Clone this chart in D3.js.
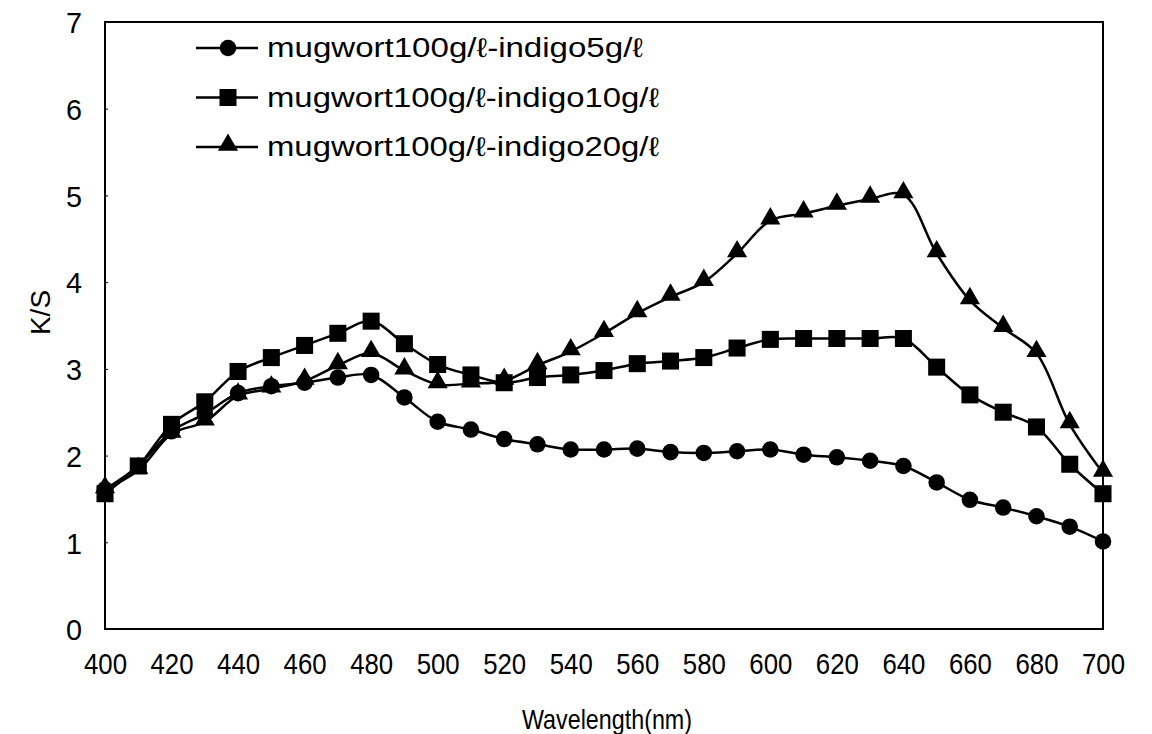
<!DOCTYPE html>
<html>
<head>
<meta charset="utf-8">
<script src="https://cdn.jsdelivr.net/npm/d3@7"></script>
<style>
  body { margin: 0; background: #fff; }
  text { font-family: "Liberation Sans", Arial, sans-serif; fill: #000; }
</style>
</head>
<body>
<script>
// wavelengths (nm)
var wavelengths = [400, 410, 420, 430, 440, 450, 460, 470, 480, 490, 500,
                   510, 520, 530, 540, 550, 560, 570, 580, 590, 600,
                   610, 620, 630, 640, 650, 660, 670, 680, 690, 700];

// K/S values
var indigo5 = [1.61, 1.88, 2.28, 2.48, 2.72, 2.80, 2.84, 2.90, 2.93, 2.67, 2.39,
               2.30, 2.19, 2.13, 2.07, 2.07, 2.08, 2.04, 2.03, 2.05, 2.07,
               2.01, 1.98, 1.94, 1.88, 1.69, 1.49, 1.40, 1.30, 1.18, 1.01];
var indigo10 = [1.56, 1.88, 2.36, 2.62, 2.97, 3.13, 3.27, 3.41, 3.55, 3.29, 3.05,
                2.93, 2.84, 2.90, 2.93, 2.98, 3.06, 3.09, 3.13, 3.24, 3.34,
                3.35, 3.35, 3.35, 3.35, 3.02, 2.70, 2.50, 2.33, 1.90, 1.56];
var indigo20 = [1.61, 1.83, 2.25, 2.39, 2.69, 2.77, 2.86, 3.04, 3.18, 2.98, 2.82,
                2.83, 2.86, 3.04, 3.20, 3.41, 3.64, 3.83, 4.00, 4.33, 4.71,
                4.79, 4.88, 4.96, 5.01, 4.33, 3.79, 3.47, 3.18, 2.36, 1.80];

var seriesNames = ["mugwort100g/\u2113-indigo5g/\u2113",
                   "mugwort100g/\u2113-indigo10g/\u2113",
                   "mugwort100g/\u2113-indigo20g/\u2113"];
var seriesShapes = ["circle", "square", "triangle"];
var yTicks = [0, 1, 2, 3, 4, 5, 6, 7];
var xTicks = [400, 420, 440, 460, 480, 500, 520, 540, 560, 580, 600, 620, 640, 660, 680, 700];

var width = 1152, height = 734;
var margin = {top: 22, right: 49, bottom: 105, left: 105};

var svg = d3.select("body").append("svg")
    .attr("width", width)
    .attr("height", height);

var x = d3.scaleLinear().domain([400, 700]).range([margin.left, width - margin.right]);
var y = d3.scaleLinear().domain([0, 7]).range([height - margin.bottom, margin.top]);

// frame round the plot area
svg.append("rect")
    .attr("x", x(400)).attr("y", y(7))
    .attr("width", x(700) - x(400)).attr("height", y(0) - y(7))
    .attr("fill", "none").attr("stroke", "#000").attr("stroke-width", 2);

// y axis
var yAxis = svg.append("g")
    .attr("transform", "translate(" + x(400) + ",0)")
    .call(d3.axisLeft(y).tickValues(yTicks).tickFormat(d3.format("d")).tickSize(-3).tickPadding(31));
yAxis.select(".domain").remove();
yAxis.selectAll("line").attr("stroke-width", 1);
yAxis.selectAll("text")
    .style("font-size", "30px")
    .attr("text-anchor", "middle")
    .attr("dy", "0.36em")
    .attr("textLength", 16).attr("lengthAdjust", "spacingAndGlyphs");

// x axis
var xAxis = svg.append("g")
    .attr("transform", "translate(0," + y(0) + ")")
    .call(d3.axisBottom(x).tickValues(xTicks).tickSize(0).tickPadding(24));
xAxis.select(".domain").remove();
xAxis.selectAll("text")
    .style("font-size", "30px")
    .attr("textLength", 43).attr("lengthAdjust", "spacingAndGlyphs");

// axis titles
svg.append("text")
    .attr("x", 607)
    .attr("y", 729)
    .attr("text-anchor", "middle")
    .style("font-size", "28px")
    .attr("textLength", 170).attr("lengthAdjust", "spacingAndGlyphs")
    .text("Wavelength(nm)");

svg.append("text")
    .attr("transform", "translate(50," + y(3.65) + ") rotate(-90)")
    .attr("text-anchor", "middle")
    .style("font-size", "28px")
    .text("K/S");

// marker shapes
var symbols = {
  circle: d3.symbol().type(d3.symbolCircle).size(215),
  square: d3.symbol().type(d3.symbolSquare).size(290),
  triangle: d3.symbol().type(d3.symbolTriangle).size(175)
};

var line = d3.line()
    .x(function(d) { return x(d.w); })
    .y(function(d) { return y(d.v); })
    .curve(d3.curveCatmullRom.alpha(0.5));

var allSeries = [indigo5, indigo10, indigo20];

allSeries.forEach(function(vals, i) {
  var pts = wavelengths.map(function(w, j) { return {w: w, v: vals[j]}; });
  svg.append("path")
      .datum(pts)
      .attr("d", line)
      .attr("fill", "none")
      .attr("stroke", "#000")
      .attr("stroke-width", 2.5);
  svg.append("g").selectAll("path")
      .data(pts)
      .enter().append("path")
      .attr("d", symbols[seriesShapes[i]])
      .attr("transform", function(d) {
        var dy = seriesShapes[i] == "triangle" ? -2 : 0;
        return "translate(" + x(d.w) + "," + (y(d.v) + dy) + ")";
      })
      .attr("fill", "#000");
});

// legend
var legend = svg.append("g");
seriesNames.forEach(function(name, i) {
  var ly = 48 + i * 49.5;
  legend.append("line")
      .attr("x1", 196).attr("x2", 258)
      .attr("y1", ly).attr("y2", ly)
      .attr("stroke", "#000").attr("stroke-width", 2.5);
  legend.append("path")
      .attr("d", symbols[seriesShapes[i]])
      .attr("transform", "translate(228," + (seriesShapes[i] == "triangle" ? ly - 2 : ly) + ")")
      .attr("fill", "#000");
  legend.append("text")
      .attr("x", 267).attr("y", ly + 9)
      .style("font-size", "27px")
      .attr("textLength", i == 0 ? 376 : 392).attr("lengthAdjust", "spacingAndGlyphs")
      .text(name);
});
</script>
</body>
</html>
